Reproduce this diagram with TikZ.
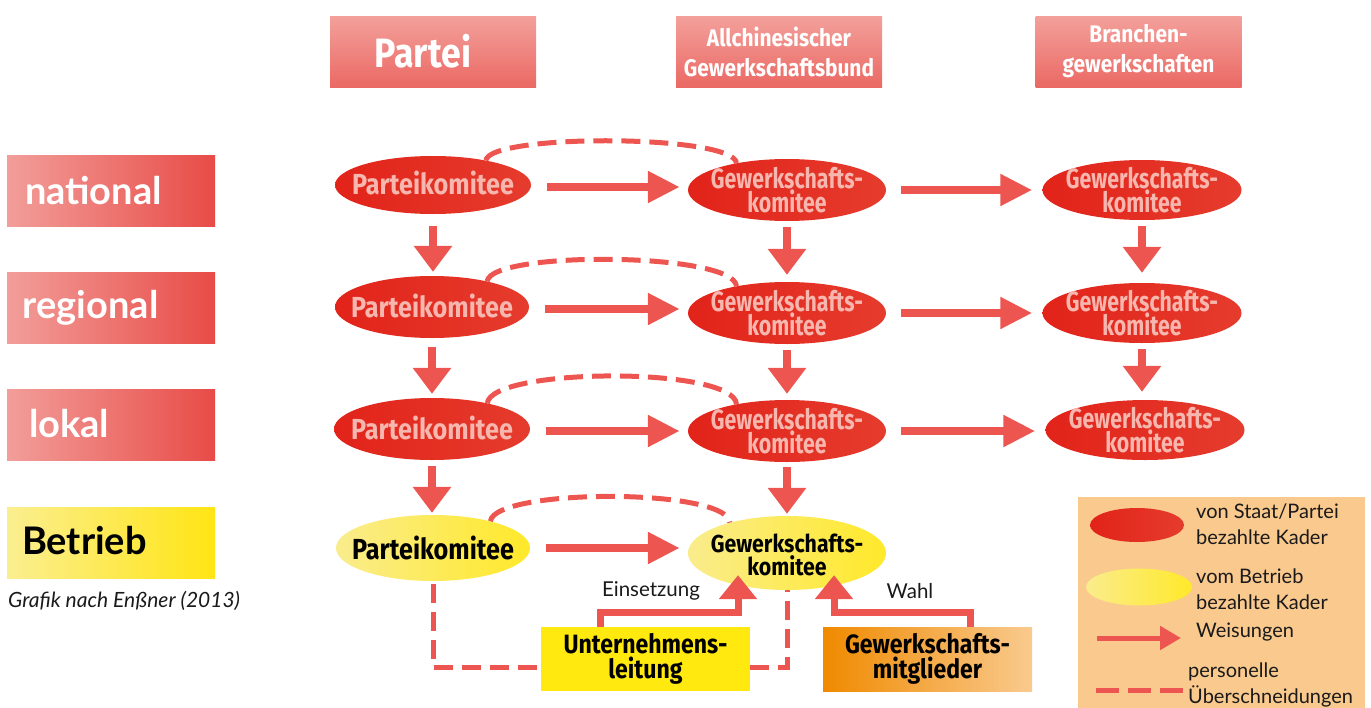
\documentclass[tikz,border=0pt]{standalone}
\usepackage{fontspec}
\setmainfont{Lato}
\newfontfamily\cond[FakeStretch=0.87]{Fira Sans}
\newfontfamily\condx[FakeStretch=0.76]{Fira Sans}
\usetikzlibrary{shapes.geometric,arrows.meta}
\definecolor{hdrtop}{HTML}{F3A09B}
\definecolor{hdrbot}{HTML}{EB6964}
\definecolor{lbll}{HTML}{F29E9A}
\definecolor{lblr}{HTML}{E84B47}
\definecolor{betl}{HTML}{FBEE90}
\definecolor{betr}{HTML}{FFE514}
\definecolor{elred}{HTML}{E2231A}
\definecolor{elredr}{HTML}{E53C2D}
\definecolor{pinktxt}{HTML}{F7B6AE}
\definecolor{yell}{HTML}{FAEC8C}
\definecolor{yelr}{HTML}{FFE92A}
\definecolor{arrred}{HTML}{EC5550}
\definecolor{ubox}{HTML}{FFE90E}
\definecolor{mleft}{HTML}{F08A00}
\definecolor{mright}{HTML}{F9CA8E}
\definecolor{legbg}{HTML}{FAC98E}
\definecolor{txtdark}{HTML}{1A1A1A}
\begin{document}
\begin{tikzpicture}[x=1pt,y=-1pt,
  hdr/.style={rectangle,inner sep=0pt,minimum width=206pt,minimum height=71pt,
    top color=hdrtop,bottom color=hdrbot,text=white,align=center},
  lvl/.style={rectangle,inner xsep=18pt,inner ysep=0pt,text width=172pt,minimum height=71pt,
    left color=lbll,right color=lblr,text=white,align=left,
    font=\bfseries\fontsize{38}{40}\selectfont},
  redel/.style={ellipse,inner sep=0pt,minimum width=197pt,minimum height=60pt,
    left color=elred,right color=elredr},
  yelel/.style={ellipse,inner sep=0pt,left color=yell,right color=yelr},
  pkt/.style={inner sep=0pt,text=pinktxt,align=center,font=\cond\bfseries\fontsize{29}{30}\selectfont},
  gkt/.style={inner sep=0pt,text=pinktxt,align=center,font=\condx\bfseries\fontsize{28}{20}\selectfont},
  harr/.style={draw=arrred,line width=8pt,-{Triangle[length=32pt,width=30pt]}},
  varr/.style={draw=arrred,line width=8pt,-{Triangle[length=26pt,width=37pt]}},
  earr/.style={draw=arrred,line width=7pt,line join=miter,-{Triangle[length=24pt,width=37pt]}},
  dsh/.style={draw=arrred,line width=5pt,dash pattern=on 19pt off 9pt},
  legtxt/.style={anchor=west,inner sep=0pt,align=left,text=txtdark,
    font=\fontsize{20}{26}\selectfont}]
\useasboundingbox (0,0) rectangle (1371,707);

% column headers
\node[hdr,font=\cond\bfseries\fontsize{41}{42}\selectfont] (hP) at (433,51.5) {Partei\hspace*{20pt}};
\node[hdr,font=\cond\bfseries\fontsize{24}{30}\selectfont] (hA) at (779,51.5) {Allchinesischer\\Gewerkschaftsbund};
\node[hdr,font=\cond\bfseries\fontsize{24}{30}\selectfont] (hB) at (1138.5,51.5) {Branchen-\\gewerkschaften};

% level labels
\node[lvl] (lN) at (111,190.5) {national};
\node[lvl] (lR) at (111,307.5) {\hspace*{-2pt}regional};
\node[lvl] (lL) at (111,425) {\hspace*{4pt}\raisebox{3pt}{lokal}};
\node[lvl,left color=betl,right color=betr,text=black] (lB) at (111,542.5) {\hspace*{-3pt}\raisebox{4pt}{Betrieb}};
\node[anchor=west,inner sep=0pt,text=txtdark,font=\itshape\fontsize{21}{22}\selectfont] (src) at (8,601) {Grafik nach Enßner (2013)};

% ellipses
\node[redel,minimum width=196pt,minimum height=58pt] (p1) at (433,185) {};
\node[redel,minimum width=198pt,minimum height=62pt] (g1) at (787,190) {};
\node[redel,minimum width=199pt,minimum height=60pt] (b1) at (1142,190) {};
\node[redel,minimum width=194pt,minimum height=62pt] (p2) at (432,307) {};
\node[redel,minimum width=198pt,minimum height=62pt] (g2) at (787,313) {};
\node[redel,minimum width=199pt,minimum height=60pt] (b2) at (1142,313) {};
\node[redel,minimum width=196pt,minimum height=62pt] (p3) at (432,429) {};
\node[redel,minimum width=198pt,minimum height=62pt] (g3) at (787,431) {};
\node[redel,minimum width=199pt,minimum height=60pt] (b3) at (1145,430) {};
\node[yelel,minimum width=194pt,minimum height=66pt] (p4) at (433,548) {};
\node[yelel,minimum width=198pt,minimum height=74pt] (g4) at (787,553) {};

\node[pkt] (p1t) at ([yshift=2pt]p1.center) {Parteikomitee};
\node[gkt] (g1t) at (g1.center) {Gewerkschafts-\\komitee};
\node[gkt] (b1t) at (b1.center) {Gewerkschafts-\\komitee};
\node[pkt] (p2t) at ([yshift=1pt]p2.center) {Parteikomitee};
\node[gkt] (g2t) at (g2.center) {Gewerkschafts-\\komitee};
\node[gkt] (b2t) at (b2.center) {Gewerkschafts-\\komitee};
\node[pkt] (p3t) at ([yshift=1pt]p3.center) {Parteikomitee};
\node[gkt] (g3t) at (g3.center) {Gewerkschafts-\\komitee};
\node[gkt] (b3t) at (b3.center) {Gewerkschafts-\\komitee};
\node[pkt,text=black] (p4t) at (p4.center) {Parteikomitee};
\node[gkt,text=black,font=\cond\bfseries\fontsize{24.5}{23.5}\selectfont] (g4t) at ([yshift=-2pt]g4.center) {Gewerkschafts-\\komitee};

% bottom boxes
\node[rectangle,inner sep=0pt,minimum width=209pt,minimum height=64pt,fill=ubox,align=center,
  font=\cond\bfseries\fontsize{26.5}{25}\selectfont] (u) at (645.5,659) {Unternehmens-\\leitung};
\node[rectangle,inner sep=0pt,minimum width=209pt,minimum height=64pt,left color=mleft,right color=mright,align=center,
  font=\cond\bfseries\fontsize{26.5}{25}\selectfont] (m) at (927.5,659) {Gewerkschafts-\\mitglieder};

% horizontal arrows
\foreach \r in {1,2,3}{
  \draw[harr] ([xshift=16pt,yshift=-2pt]p\r.east) -- ([xshift=-8pt,yshift=-2pt]p\r.east -| g\r.west);
  \draw[harr] ([xshift=15pt]g\r.east) -- ([xshift=-10pt]g\r.east -| b\r.west);
}
\draw[harr] ([xshift=16pt]p4.east) -- ([xshift=-8pt]p4.east -| g4.west);

% vertical arrows
\draw[varr] ([yshift=-12pt]p1.south) -- ([yshift=4pt]p1.south |- p2.north);
\draw[varr] ([yshift=-9pt]p2.south) -- ([yshift=4pt]p2.south |- p3.north);
\draw[varr] ([yshift=-6pt]p3.south) -- ([yshift=2pt]p3.south |- p4.north);
\draw[varr] ([yshift=-6pt]g1.south) -- ([yshift=7pt]g1.south |- g2.north);
\draw[varr] ([yshift=-6pt]g2.south) -- ([yshift=6pt]g2.south |- g3.north);
\draw[varr] ([yshift=-5pt]g3.south) -- ([yshift=2pt]g3.south |- g4.north);
\draw[varr] ([yshift=-6pt]b1.south) -- ([yshift=10pt]b1.south |- b2.north);
\draw[varr] ([yshift=-6pt]b2.south) -- ([yshift=8pt]b2.south |- b3.north);

% dashed overlaps
\draw[dsh] (p1.25) .. controls +(4,-27) and +(-3,-29) .. (g1.152);
\draw[dsh] (p2.25) .. controls +(4,-31) and +(-3,-34) .. (g2.152);
\draw[dsh] (p3.25) .. controls +(4,-36) and +(-3,-38) .. (g3.152);
\draw[dsh] (p4.25) .. controls +(4,-33) and +(-3,-35) .. (g4.152);
\draw[dsh] ([yshift=-3pt]p4.south) |- ([yshift=-8pt]u.west);
\draw[dsh] ([yshift=-8pt]u.east) -| (g4.south);

% Einsetzung / Wahl
\draw[earr] ([xshift=-45.5pt]u.north) -- ++(0,-14) -| ([xshift=-49pt,yshift=15pt]g4.south);
\draw[earr] ([xshift=42.5pt]m.north) -- ++(0,-14) -| ([xshift=47pt,yshift=15pt]g4.south);
\node[inner sep=0pt,text=txtdark,font=\fontsize{20.5}{22}\selectfont] (eins) at (651,591) {Einsetzung};
\node[inner sep=0pt,text=txtdark,font=\fontsize{20.5}{22}\selectfont] (wahl) at (910,591) {Wahl};

% legend
\node[rectangle,inner sep=0pt,fill=legbg,anchor=north west,minimum width=287pt,minimum height=211pt] (leg) at (1078,497) {};
\node[ellipse,inner sep=0pt,minimum width=94pt,minimum height=34pt,left color=elred,right color=elredr] (lr) at (1137,525) {};
\node[ellipse,inner sep=0pt,minimum width=106pt,minimum height=37pt,left color=yell,right color=yelr] (ly) at (1139,587) {};
\coordinate (la1) at (1097,638);
\coordinate (la2) at (1181,638);
\draw[draw=arrred,line width=5pt,-{Triangle[length=21pt,width=23pt]}] (la1) -- (la2);
\coordinate (ld1) at (1096,690);
\coordinate (ld2) at (1186,690);
\draw[draw=arrred,line width=5pt,dash pattern=on 23pt off 9pt] (ld1) -- (ld2);
\node[legtxt] (t1) at (1196,524) {von Staat/Partei\\bezahlte Kader};
\node[legtxt] (t2) at (1196,589) {vom Betrieb\\bezahlte Kader};
\node[legtxt] (t3) at (1196,632) {Weisungen};
\node[legtxt] (t4) at (1188,685) {personelle\\Überschneidungen};
\end{tikzpicture}
\end{document}
